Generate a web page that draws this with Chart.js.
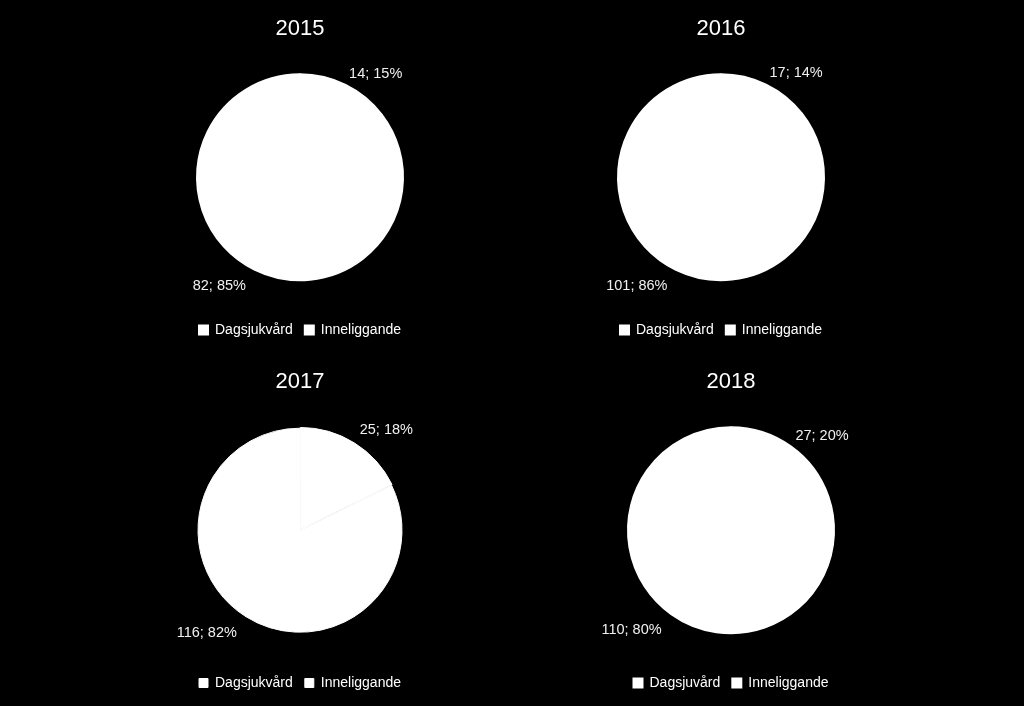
<!DOCTYPE html>
<html>
<head>
<meta charset="utf-8">
<script src="https://cdn.jsdelivr.net/npm/chart.js@4/dist/chart.umd.min.js"></script>
<style>
  html, body { margin: 0; padding: 0; background: #000; }
  #wrap { position: relative; width: 1024px; height: 706px; background: #000; overflow: hidden; }
  .box { position: absolute; width: 420px; height: 353px; }
</style>
</head>
<body>
<div id="wrap">
  <div class="box" style="left:90px;top:0px"><canvas id="c0"></canvas></div>
  <div class="box" style="left:511px;top:0px"><canvas id="c1"></canvas></div>
  <div class="box" style="left:90px;top:353px"><canvas id="c2"></canvas></div>
  <div class="box" style="left:521px;top:353px"><canvas id="c3"></canvas></div>
</div>
<script>
// data
var years = ["2015", "2016", "2017", "2018"];
var dagsjukvard = [82, 101, 116, 110];
var inneliggande = [14, 17, 25, 27];
// the 2018 legend spells it without the k
var firstLabels = ["Dagsjukvård", "Dagsjukvård", "Dagsjukvård", "Dagsjuvård"];
var secondLabel = "Inneliggande";

Chart.defaults.font.family = "'Liberation Sans', Arial, sans-serif";
Chart.defaults.color = "#fff";

// "value; pct%" labels just outside each slice
var sliceLabels = {
  id: "sliceLabels",
  afterDatasetsDraw: function (chart) {
    var ctx = chart.ctx;
    var meta = chart.getDatasetMeta(0);
    var values = chart.data.datasets[0].data;
    var total = values.reduce(function (a, b) { return a + b; }, 0);
    ctx.save();
    ctx.font = "14.5px 'Liberation Sans', Arial, sans-serif";
    ctx.fillStyle = "#f0f0f0";
    meta.data.forEach(function (arc, i) {
      var p = arc.getProps(["x", "y", "startAngle", "endAngle", "outerRadius"], true);
      var mid = (p.startAngle + p.endAngle) / 2;
      var off = chart.data.datasets[0].offset ? chart.data.datasets[0].offset[i] : 0;
      var r = p.outerRadius + off + 8;
      var cos = Math.cos(mid), sin = Math.sin(mid);
      var x = p.x + cos * r, y = p.y + sin * r;
      ctx.textAlign = cos >= 0 ? "left" : "right";
      if (sin < 0) {
        ctx.textBaseline = "alphabetic";
      } else {
        ctx.textBaseline = "top";
        x += (cos >= 0 ? 5 : -5);
        y += 2;
      }
      var pct = Math.round(values[i] / total * 100);
      ctx.fillText(values[i] + "; " + pct + "%", x, y);
    });
    ctx.restore();
  }
};

years.forEach(function (year, k) {
  var vals = [dagsjukvard[k], inneliggande[k]];
  var total = vals[0] + vals[1];
  var exploded = k === 2; // 2017 has its small slice pulled out a little
  new Chart(document.getElementById("c" + k), {
    type: "pie",
    data: {
      labels: [firstLabels[k], secondLabel],
      datasets: [{
        data: vals,
        backgroundColor: ["#ffffff", "#ffffff"],
        borderColor: "#ffffff",
        borderWidth: exploded ? 1 : 2,
        offset: exploded ? [0, 3] : [0, 0]
      }]
    },
    options: {
      responsive: true,
      maintainAspectRatio: false,
      animation: false,
      events: [],
      radius: exploded ? 102 : 103,
      rotation: 360 * vals[1] / total,
      layout: { padding: { bottom: 6 } },
      plugins: {
        title: {
          display: true,
          text: year,
          color: "#fff",
          font: { size: 22, weight: "normal" },
          padding: { top: 16, bottom: 1 }
        },
        legend: {
          position: "bottom",
          labels: {
            color: "#fff",
            font: { size: 14 },
            boxWidth: 9,
            boxHeight: 9,
            padding: 12
          }
        },
        tooltip: { enabled: false }
      }
    },
    plugins: [sliceLabels]
  });
});
</script>
</body>
</html>
